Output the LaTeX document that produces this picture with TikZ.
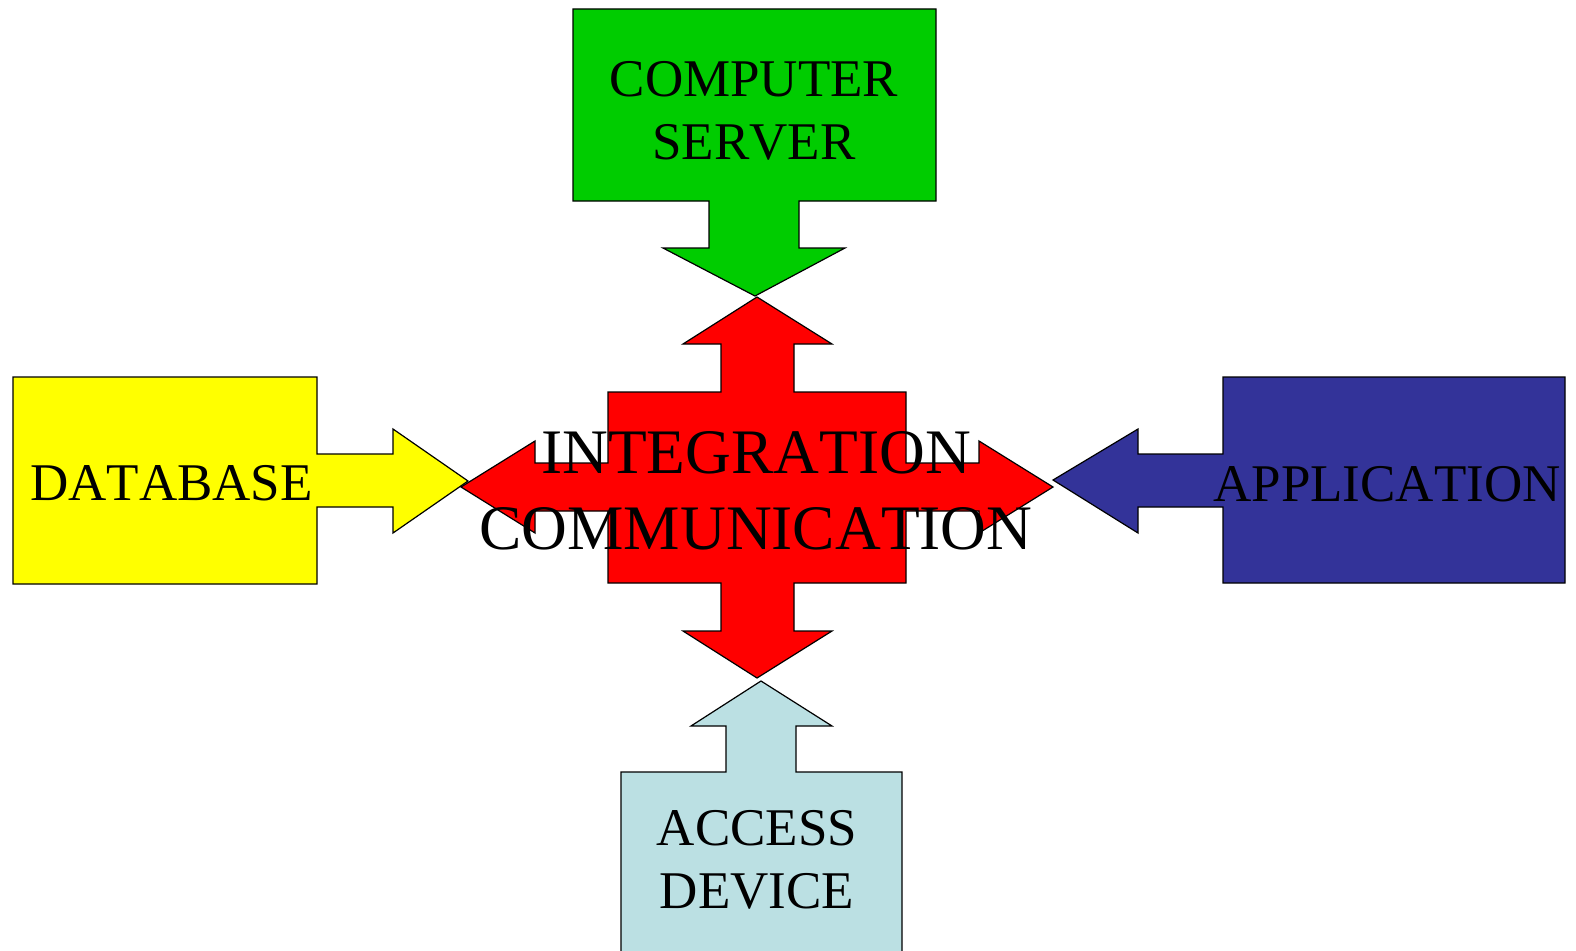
\documentclass[tikz,border=0pt]{standalone}
\usepackage{fontspec}
\setmainfont{Liberation Serif}[Kerning=Off]
\definecolor{servergreen}{HTML}{00CC00}
\definecolor{dbyellow}{HTML}{FFFF00}
\definecolor{appblue}{HTML}{333399}
\definecolor{devicecyan}{HTML}{BBE0E3}
\definecolor{hubred}{HTML}{FF0000}

\begin{document}
\begin{tikzpicture}[x=1pt, y=-1pt, callout/.style={draw=black, line width=1.2pt},
	boxtext/.style={inner sep=0pt, align=center, font=\fontsize{53}{63}\selectfont}]
	\useasboundingbox (0,0) rectangle (1576,950);
	% outer callouts
	\draw[callout, fill=servergreen] (573,9) -- (936,9) -- (936,201) -- (799,201) -- (799,248) -- (845,248) -- (755,296)
	  -- (663,248) -- (709,248) -- (709,201) -- (573,201) -- cycle;
	\draw[callout, fill=dbyellow] (13,377) -- (317,377) -- (317,454) -- (393,454) -- (393,429) -- (468,481)
	  -- (393,533) -- (393,507) -- (317,507) -- (317,584) -- (13,584) -- cycle;
	\draw[callout, fill=appblue] (1565,377) -- (1223,377) -- (1223,454) -- (1138,454) -- (1138,429) -- (1053,480)
	  -- (1138,533) -- (1138,507) -- (1223,507) -- (1223,583) -- (1565,583) -- cycle;
	\draw[callout, fill=devicecyan] (621,962) -- (621,772) -- (726,772) -- (726,726) -- (691,726) -- (761,681)
	  -- (832,726) -- (796,726) -- (796,772) -- (902,772) -- (902,962) -- cycle;
	% centre cross
	\draw[callout, fill=hubred] (608,392) -- (721,392) -- (721,344) -- (683,344) -- (757,297) -- (832,344) -- (794,344)
	  -- (794,392) -- (906,392) -- (906,463) -- (979,463) -- (979,441) -- (1053,487) -- (979,533) -- (979,511)
	  -- (906,511) -- (906,583) -- (794,583) -- (794,631) -- (832,631) -- (757,678) -- (683,631) -- (721,631)
	  -- (721,583) -- (608,583) -- (608,511) -- (535,511) -- (535,533) -- (461,487) -- (535,441) -- (535,463)
	  -- (608,463) -- cycle;
	\node[boxtext, anchor=north] (server) at (754,61) {COMPUTER\\SERVER};
	\node[boxtext, anchor=base] (database) at (171.5,500) {DATABASE};
	\node[boxtext, anchor=base] (application) at (1387,501) {APPLICATION};
	\node[boxtext, anchor=north] (device) at (757,810) {ACCESS\\DEVICE};
	\node[boxtext, anchor=north, font=\fontsize{63.4}{76}\selectfont] (hub) at (756,431) {INTEGRATION\\COMMUNICATION};
\end{tikzpicture}
\end{document}
